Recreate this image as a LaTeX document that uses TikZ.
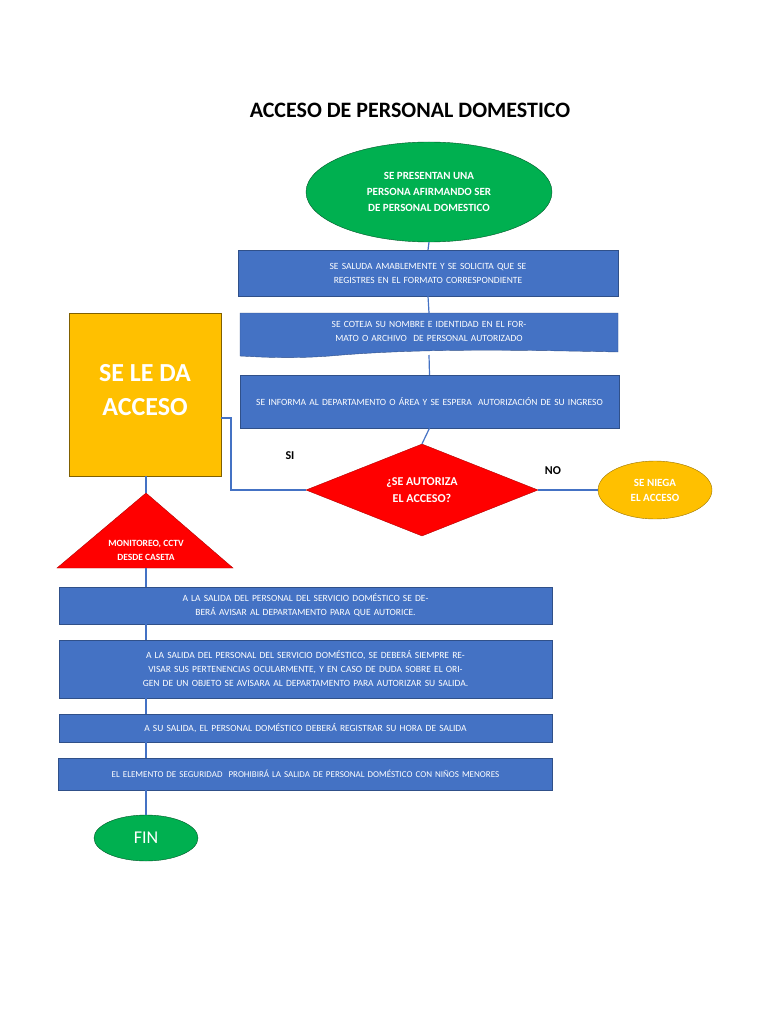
\documentclass[tikz,border=0pt]{standalone}
\usepackage{fontspec}
\setmainfont{Carlito}
\usetikzlibrary{shapes.geometric}
\definecolor{bblue}{HTML}{4472C4}
\definecolor{bgreen}{HTML}{00B050}
\definecolor{borange}{HTML}{FFC000}
\definecolor{bred}{HTML}{FF0000}
\begin{document}
\begin{tikzpicture}[x=1pt,y=-1pt,
 box/.style={draw=bblue!70!black,fill=bblue,text=white,font=\fontsize{9.5}{14}\selectfont,align=center,inner sep=2pt},
 link/.style={draw=bblue,line width=1.2pt}]
\useasboundingbox (0,0) rectangle (768,1024);
\node[font=\fontsize{22}{26}\selectfont\bfseries] (title) at (410,110) {ACCESO DE PERSONAL DOMESTICO};
\node[ellipse,draw=bgreen!50!black,fill=bgreen,text=white,font=\fontsize{11}{16}\selectfont\bfseries,align=center,minimum width=246,minimum height=100,inner sep=0] (start) at (429,192) {SE PRESENTAN UNA\\PERSONA AFIRMANDO SER\\DE PERSONAL DOMESTICO};
\node[box,minimum width=380,minimum height=46,text width=370] (b1) at (428,273) {SE SALUDA AMABLEMENTE Y SE SOLICITA QUE SE REGISTRES EN EL FORMATO CORRESPONDIENTE};
\path[fill=bblue,draw=bblue!70!black] (240,313) -- (618,313) -- (618,352) .. controls (520,350) and (420,348) .. (330,356) .. controls (290,359) and (260,357) .. (240,356) -- cycle;
\node[text=white,font=\fontsize{9.5}{14}\selectfont,align=center,text width=370] (b2) at (429,331) {SE COTEJA SU NOMBRE E IDENTIDAD EN EL FORMATO O ARCHIVO\ \ DE PERSONAL AUTORIZADO};
\node[box,minimum width=379,minimum height=53,text width=370] (b3) at (429.5,401.5) {SE INFORMA AL DEPARTAMENTO O ÁREA Y SE ESPERA\ \ AUTORIZACIÓN DE SU INGRESO};
\node[diamond,draw=bred!70!black,fill=bred,text=white,font=\fontsize{12}{17}\selectfont\bfseries,align=center,minimum width=232,minimum height=92,inner sep=0,aspect=2.5] (dec) at (422,490) {¿SE AUTORIZA\\EL ACCESO?};
\node[ellipse,draw=borange!60!black,fill=borange,text=white,font=\fontsize{11}{15}\selectfont\bfseries,align=center,minimum width=114,minimum height=58,inner sep=0] (neg) at (655,490) {SE NIEGA\\EL ACCESO};
\node[draw=borange!50!black,fill=borange,minimum width=152,minimum height=163,inner sep=0] (acc) at (145,394.5) {};
\node[text=white,font=\fontsize{26}{34}\selectfont\bfseries,align=center] (acct) at (145,390) {SE LE DA\\ACCESO};
\path[fill=bred,draw=bred!70!black] (146,493) -- (233,568) -- (57,568) -- cycle;
\node[text=white,font=\fontsize{9.5}{14}\selectfont\bfseries,align=center] (tri) at (146,550) {MONITOREO, CCTV\\DESDE CASETA};
\coordinate (apex) at (146,493);
\coordinate (tribase) at (146,568);
\node[box,minimum width=493,minimum height=37,text width=440] (b4) at (305.5,605.5) {A LA SALIDA DEL PERSONAL DEL SERVICIO DOMÉSTICO SE DEBERÁ AVISAR AL DEPARTAMENTO PARA QUE AUTORICE.};
\node[box,minimum width=493,minimum height=58,text width=480] (b5) at (305.5,669) {A LA SALIDA DEL PERSONAL DEL SERVICIO DOMÉSTICO, SE DEBERÁ SIEMPRE REVISAR SUS PERTENENCIAS OCULARMENTE, Y EN CASO DE DUDA SOBRE EL ORIGEN DE UN OBJETO SE AVISARA AL DEPARTAMENTO PARA AUTORIZAR SU SALIDA.};
\node[box,minimum width=493,minimum height=28,text width=480] (b6) at (305.5,728) {A SU SALIDA, EL PERSONAL DOMÉSTICO DEBERÁ REGISTRAR SU HORA DE SALIDA};
\node[box,minimum width=493,minimum height=32,text width=490,font=\fontsize{9}{13}\selectfont] (b7) at (305.5,774) {EL ELEMENTO DE SEGURIDAD\ \ PROHIBIRÁ LA SALIDA DE PERSONAL DOMÉSTICO CON NIÑOS MENORES};
\node[ellipse,draw=bgreen!50!black,fill=bgreen,text=white,font=\fontsize{18}{22}\selectfont,minimum width=104,minimum height=46,inner sep=0] (fin) at (146,838) {FIN};
\begin{scope}[on background layer/.style={}]
\end{scope}
\draw[link] (start.south) -- (b1.north);
\draw[link] (b1.south) -- (429,313);
\draw[link] (429,355) -- (b3.north);
\draw[link] (b3.south) -- (dec.north);
\draw[link] (dec.east) -- (neg.west);
\draw[link] (dec.west) -- (231,490) -- (231,418) -- (221,418);
\draw[link] (acc.south -| apex) -- (apex);
\draw[link] (tribase) -- (b4.north -| tribase);
\draw[link] (b4.south -| tribase) -- (b5.north -| tribase);
\draw[link] (b5.south -| tribase) -- (b6.north -| tribase);
\draw[link] (b6.south -| tribase) -- (b7.north -| tribase);
\draw[link] (b7.south -| tribase) -- (fin.north);
\node[font=\fontsize{12}{14}\selectfont\bfseries] (si) at (290,456) {SI};
\node[font=\fontsize{12}{14}\selectfont\bfseries] (no) at (553,471) {NO};
\end{tikzpicture}
\end{document}
